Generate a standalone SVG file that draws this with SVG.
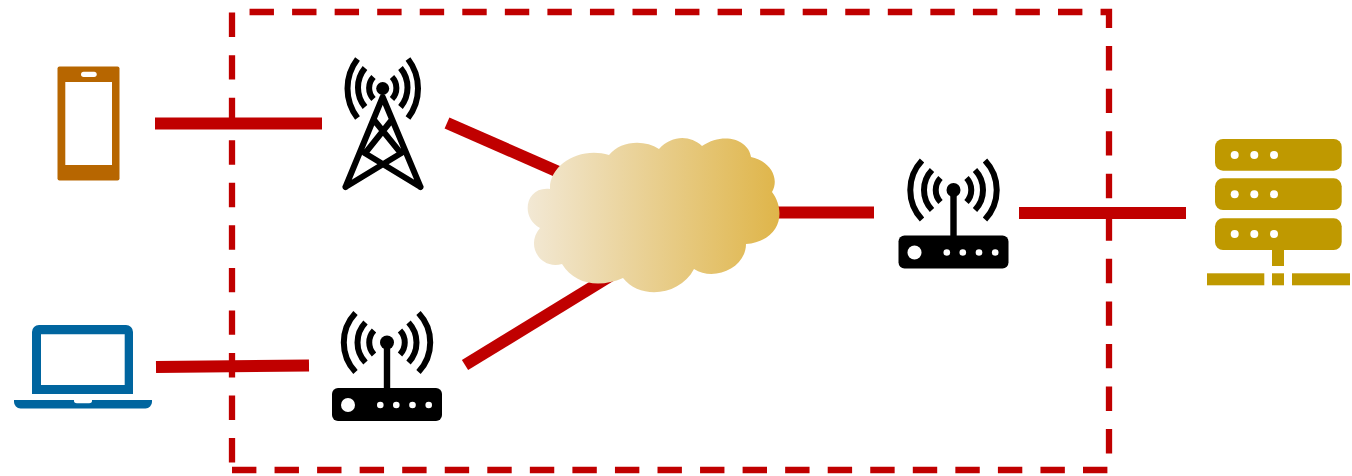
<svg xmlns="http://www.w3.org/2000/svg" xmlns:xlink="http://www.w3.org/1999/xlink" width="1352" height="476" viewBox="0 0 1352 476">
<style>
.link{stroke:#c00000;stroke-width:12;fill:none}
.dash{stroke:#c00000;stroke-width:6.300;fill:none;stroke-dasharray:24.4 18.15}
.wave{stroke:#000;stroke-width:6;fill:none}
.tw{stroke:#000;stroke-width:6;fill:none;stroke-linecap:round;stroke-linejoin:round}
.srv{fill:#bf9900}
.hole{fill:#fff}
</style>
<defs>
<linearGradient id="cloudFill" gradientUnits="userSpaceOnUse" x1="528" y1="0" x2="780" y2="0">
<stop offset="0" stop-color="#f2e8d4"/><stop offset="1" stop-color="#dfb549"/>
</linearGradient>
<g id="router">
<rect x="332" y="388" width="110" height="33" rx="6" fill="#000"/>
<rect x="383.800" y="342" width="6.400" height="48" fill="#000"/>
<circle cx="387" cy="342.500" r="7" fill="#000"/>
<path class="wave" d="M374 330.500A17.500 17.500 0 0 0 374 354.500M400 330.500A17.500 17.500 0 0 1 400 354.500M365.500 322.500A29 29 0 0 0 365.500 362.500M408.500 322.500A29 29 0 0 1 408.500 362.500M355.500 313A43 43 0 0 0 355.500 372M418.500 313A43 43 0 0 1 418.500 372"/>
<circle class="hole" cx="348" cy="405" r="7"/>
<circle class="hole" cx="380.300" cy="405" r="3.300"/><circle class="hole" cx="396.300" cy="405" r="3.300"/><circle class="hole" cx="412.500" cy="405" r="3.300"/><circle class="hole" cx="428.700" cy="405" r="3.300"/>
</g>
</defs>
<g id="connectors">
<line class="link" x1="155" y1="123.500" x2="322" y2="123.500"/>
<line class="link" x1="156" y1="367" x2="309" y2="365.500"/>
<line class="link" x1="447" y1="123" x2="570" y2="177"/>
<line class="link" x1="465" y1="365" x2="625" y2="267"/>
<line class="link" x1="760" y1="212.500" x2="874" y2="212.500"/>
<line class="link" x1="1019" y1="213" x2="1186" y2="213"/>
</g>
<g id="boundary">
<path class="dash" d="M232 470H1109V12H232V470"/>
</g>
<g id="cloud">
<path fill="url(#cloudFill)" d="M550 189C549 165 580 146 609 155C620 141 644 139 659 149C672 135 690 135 702 146C724 131 749 140 751 157C770 161 780 178 772 192C787 212 780 241 746 244C746 268 714 282 694 269C680 296 640 300 623 278C600 288 575 285 562 264C540 270 525 245 540 228C520 218 525 186 550 189Z"/>
</g>
<g id="phone">
<rect x="57.500" y="66.500" width="62" height="114" rx="2" fill="#b76600"/>
<rect class="hole" x="65.300" y="82" width="46.700" height="83"/>
<rect class="hole" x="81" y="71.700" width="15.700" height="5.300" rx="2.650"/>
</g>
<g id="laptop">
<path fill="#00659f" d="M32 394V332a7 7 0 0 1 7-7H126a7 7 0 0 1 7 7V394ZM41 385H124.700V334.300H41ZM14 400H74a3 3 0 0 0 3 3.300H89a3 3 0 0 0 3-3.300H152V402a6.500 6.500 0 0 1-6.500 6.500H20.500a6.500 6.500 0 0 1-6.500-6.500Z" fill-rule="evenodd"/>
</g>
<g id="tower">
<circle cx="382.700" cy="88.500" r="6.500" fill="#000"/>
<path class="wave" d="M373.500 77A16 16 0 0 0 373.500 99M392 77A16 16 0 0 1 392 99M365 68A30.600 30.600 0 0 0 365 107M400.500 68A30.600 30.600 0 0 1 400.500 107M357.500 59A48.500 48.500 0 0 0 357.500 118M408 59A48.500 48.500 0 0 1 408 118"/>
<path class="tw" d="M345.500 187 382.700 97 420.500 187M374 120 401 153.300 345.500 187M391.700 120 365 153.300 420.500 187"/>
</g>
<g id="router1"><use href="#router" xlink:href="#router"/></g>
<g id="router2"><use href="#router" xlink:href="#router" x="566.500" y="-152.500"/></g>
<g id="server">
<rect class="srv" x="1215" y="139" width="126.700" height="31.700" rx="8"/>
<rect class="srv" x="1215" y="178.300" width="126.700" height="31.700" rx="8"/>
<rect class="srv" x="1215" y="218.300" width="126.700" height="31.700" rx="8"/>
<circle class="hole" cx="1234.700" cy="155" r="4"/><circle class="hole" cx="1254.300" cy="155" r="4"/><circle class="hole" cx="1274" cy="155" r="4"/>
<circle class="hole" cx="1234.700" cy="194.300" r="4"/><circle class="hole" cx="1254.300" cy="194.300" r="4"/><circle class="hole" cx="1274" cy="194.300" r="4"/>
<circle class="hole" cx="1234.700" cy="234" r="4"/><circle class="hole" cx="1254.300" cy="234" r="4"/><circle class="hole" cx="1274" cy="234" r="4"/>
<rect class="srv" x="1272" y="250" width="12" height="16"/>
<rect class="srv" x="1207" y="273.300" width="57.300" height="12"/>
<rect class="srv" x="1272" y="273.300" width="12" height="12"/>
<rect class="srv" x="1292" y="273.300" width="58" height="12"/>
</g>
</svg>
